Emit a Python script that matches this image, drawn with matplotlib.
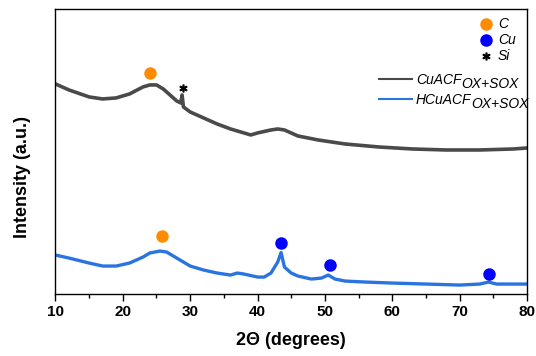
import matplotlib
matplotlib.use("Agg")
import matplotlib.pyplot as plt
from matplotlib.lines import Line2D

plt.rcParams['font.family'] = ['Liberation Sans', 'DejaVu Sans']

# XRD patterns (arbitrary intensity units, stacked)
two_theta_cu = [10, 12, 15, 17, 19, 21, 23, 24, 25, 26, 27, 28, 28.6, 28.8, 29.0, 30, 32, 34,
                36, 38, 39, 40, 42, 43, 44, 46, 49, 53, 58, 63, 68, 73, 78, 80]
intensity_cu = [210, 204, 197, 195, 196, 200, 207, 209, 209, 205, 199, 193, 191, 199, 187, 182, 176, 170,
                165, 161, 159, 161, 164, 165, 164, 158, 154, 150, 147, 145, 144, 144, 145, 146]

two_theta_hcu = [10, 12, 15, 17, 19, 21, 23, 24, 25.5, 26.5, 28, 30, 32, 34, 36, 37, 38, 40, 41, 42,
                 43, 43.5, 44, 45, 46, 48, 49.5, 50.5, 51.5, 53, 56, 60, 65, 70, 73, 74.3, 75.5, 78, 80]
intensity_hcu = [39, 36, 31, 28, 28, 31, 37, 41, 43, 42, 36, 28, 24, 21, 19, 21, 20, 17, 17, 21,
                 32, 41.5, 27, 21, 18, 15, 16, 19, 15, 13, 12, 11, 10, 9, 10, 12, 10, 10, 10]

# Phase markers
c_pos = [24.0, 25.8]
c_int = [221, 58]
cu_pos = [43.5, 50.7, 74.4]
cu_int = [51, 29, 20]
si_pos = [28.9]
si_int = [206]

series_names = ['CuACF', 'HCuACF']
series_sub = ['OX+SOX', 'OX+SOX']
phase_labels = ['C', 'Cu', 'Si']

W, H = 536, 356
fig = plt.figure(figsize=(W / 100, H / 100), dpi=100)
ax = fig.add_axes([0.1035, 0.174, 0.8795, 0.801])


def fxy(px, py):
    """Pixel position (from top-left) to figure fraction."""
    return px / W, 1 - py / H


gray = '#4a4a4a'
blue = '#2a74e0'
orange = '#ff8c00'
cu_blue = '#0000ff'

ax.plot(two_theta_cu, intensity_cu, color=gray, lw=2.6, solid_joinstyle='round')
ax.plot(two_theta_hcu, intensity_hcu, color=blue, lw=2.4, solid_joinstyle='round')

ax.plot(c_pos, c_int, 'o', ms=9, color=orange, mew=0, zorder=5)
ax.plot(cu_pos, cu_int, 'o', ms=9, color=cu_blue, mew=0, zorder=5)
ax.plot(si_pos, si_int, ls='none', marker='$*$', ms=5, color='black', zorder=5)

ax.set_xlim(10, 80)
ax.set_ylim(0, 285)
ax.set_yticks([])
ax.set_xticks(range(10, 81, 10))
ax.set_xticks(range(15, 80, 10), minor=True)
ax.tick_params(axis='x', which='major', direction='out', length=5, width=1, labelsize=11, pad=3)
ax.tick_params(axis='x', which='minor', direction='out', length=3, width=1)
for lbl in ax.get_xticklabels():
    lbl.set_fontweight('bold')
for sp in ax.spines.values():
    sp.set_linewidth(1.0)

ax.set_xlabel('2\u0398 (degrees)', fontsize=13, fontweight='bold', labelpad=9)
ax.set_ylabel('Intensity (a.u.)', fontsize=13, fontweight='bold')
ax.yaxis.set_label_coords(-0.052, 0.41)

# Phase key
phase_styles = [dict(marker='o', ms=9, color=orange, mew=0),
                dict(marker='o', ms=9, color=cu_blue, mew=0),
                dict(marker='$*$', ms=5, color='black')]
for i, (lab, st) in enumerate(zip(phase_labels, phase_styles)):
    y = 24 + 16 * i
    fig.add_artist(Line2D([fxy(486, y)[0]], [fxy(486, y)[1]], ls='none', **st))
    fig.text(*fxy(498, y), lab, fontsize=10, style='italic', va='center', ha='left')

# Series key
for i, (name, sub, col) in enumerate(zip(series_names, series_sub, [gray, blue])):
    ly = 79 + 20 * i
    x0, y0 = fxy(379, ly)
    x1, _ = fxy(412, ly)
    fig.add_artist(Line2D([x0, x1], [y0, y0], color=col, lw=1.5))
    t = fig.text(*fxy(416, ly + 5), name, fontsize=10, style='italic', va='baseline', ha='left')
    fig.canvas.draw()
    bb = t.get_window_extent()
    fig.text(bb.x1 / W, (H - (ly + 8.5)) / H, sub, fontsize=10, style='italic', va='baseline', ha='left')

fig.savefig('out.png', dpi=100)
